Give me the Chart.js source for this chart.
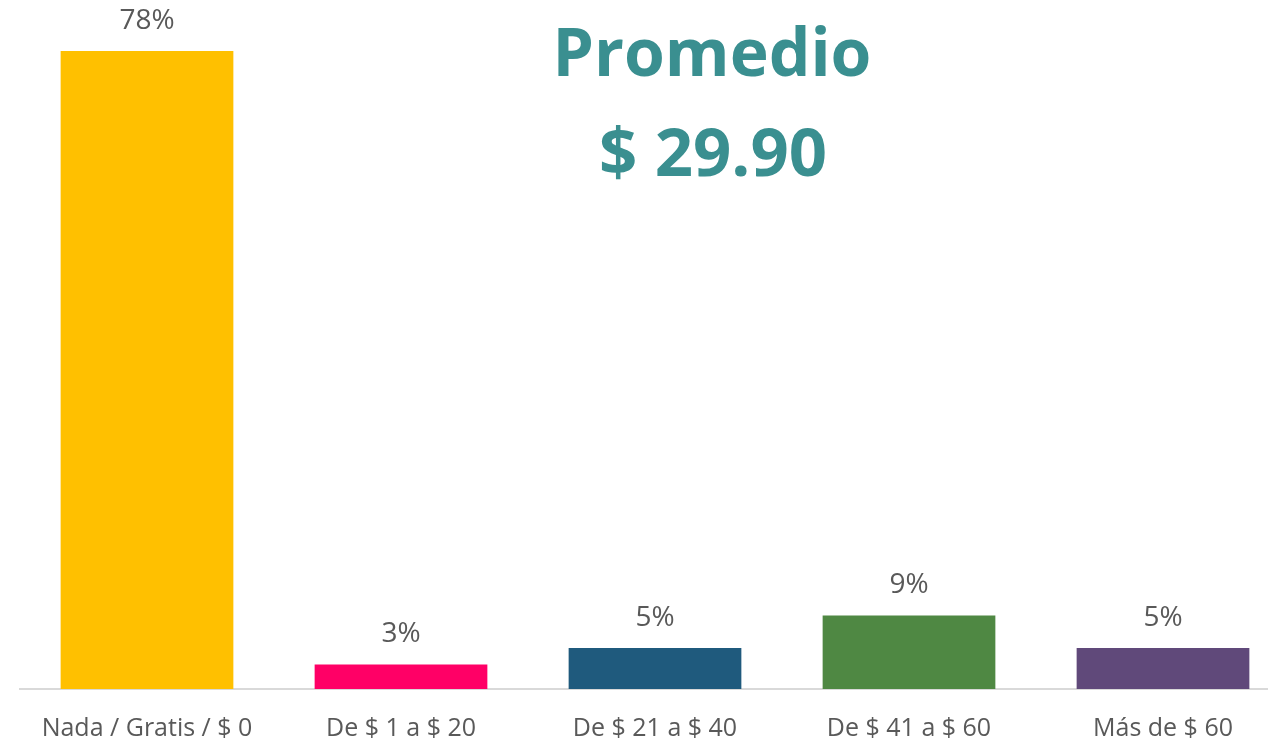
<!DOCTYPE html>
<html>
<head>
<meta charset="utf-8">
<script src="https://cdn.jsdelivr.net/npm/chart.js@4"></script>
<style>
  html, body { margin: 0; padding: 0; background: #fff; overflow: hidden; }
  #wrap { position: absolute; left: 0; top: 0; width: 1290px; height: 739px; }
</style>
</head>
<body>
<div id="wrap"><canvas id="gastoChart"></canvas></div>
<script>
// =======================================
// GASTO DISPUESTO (BARRAS)
// =======================================

const categorias = ["Nada / Gratis / $ 0", "De $ 1 a $ 20", "De $ 21 a $ 40", "De $ 41 a $ 60", "Más de $ 60"];
const porcentajes = [78, 3, 5, 9, 5];
const colores = ["#FFC000", "#FF0066", "#1F5A7D", "#4F8843", "#60497A"];
const promedioTitulo = "Promedio";
const promedioValor = "$ 29.90";

const FUENTE = "'Open Sans', 'Noto Sans', sans-serif";

// etiquetas de valor encima de cada barra
const etiquetasValor = {
    id: "etiquetasValor",
    afterDatasetsDraw(chart) {
        const ctx = chart.ctx;
        const meta = chart.getDatasetMeta(0);
        ctx.save();
        ctx.fillStyle = "#595959";
        ctx.font = "28px " + FUENTE;
        ctx.textAlign = "center";
        ctx.textBaseline = "middle";
        meta.data.forEach((bar, i) => {
            ctx.fillText(porcentajes[i] + "%", bar.x, bar.y - 30);
        });
        ctx.restore();
    }
};

// texto del promedio
const promedio = {
    id: "promedio",
    afterDraw(chart) {
        const ctx = chart.ctx;
        ctx.save();
        ctx.fillStyle = "#3A8F90";
        ctx.textAlign = "center";
        ctx.textBaseline = "alphabetic";
        ctx.font = "bold 66px " + FUENTE;
        ctx.fillText(promedioTitulo, 712, 76);
        ctx.font = "bold 67px " + FUENTE;
        ctx.fillText(promedioValor, 713, 176);
        ctx.restore();
    }
};

new Chart(document.getElementById("gastoChart"), {
    type: "bar",
    data: {
        labels: categorias,
        datasets: [{
            data: porcentajes,
            backgroundColor: colores,
            barPercentage: 0.68,
            categoryPercentage: 1
        }]
    },
    options: {
        responsive: true,
        maintainAspectRatio: false,
        animation: false,
        layout: {
            padding: { top: 2, left: 20, right: 0, bottom: -30 }
        },
        plugins: {
            legend: { display: false },
            tooltip: { enabled: false }
        },
        scales: {
            x: {
                grid: { display: false, drawTicks: false },
                border: { display: true, color: "#D9D9D9", width: 2 },
                ticks: {
                    color: "#595959",
                    padding: 25,
                    font: { family: FUENTE, size: 25 }
                }
            },
            y: {
                display: false,
                min: 0,
                max: 84
            }
        }
    },
    plugins: [etiquetasValor, promedio]
});
</script>
</body>
</html>
